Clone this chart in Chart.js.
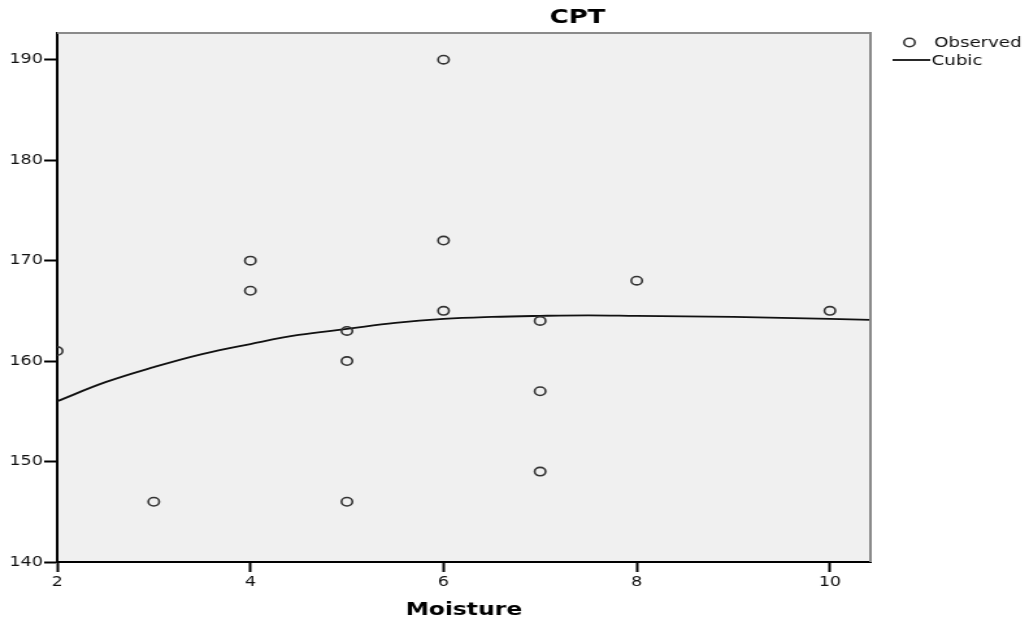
<!DOCTYPE html>
<html>
<head>
<meta charset="utf-8">
<title>CPT</title>
<script src="https://cdn.jsdelivr.net/npm/chart.js@4/dist/chart.umd.min.js"></script>
<style>
  html, body { margin: 0; padding: 0; background: #fff; overflow: hidden; }
  /* the chart is drawn narrow and stretched sideways, like the exported SPSS plot */
  #wrap { width: 792px; height: 626px; transform: scaleX(1.2992); transform-origin: 0 0; }
</style>
</head>
<body>
<div id="wrap"><canvas id="cptChart" width="792" height="626" style="width:792px;height:626px"></canvas></div>
<script>
// observed values
const moisture = [2, 3, 4, 4, 5, 5, 5, 6, 6, 6, 7, 7, 7, 8, 10];
const cpt = [161, 146, 170, 167, 163, 160, 146, 190, 172, 165, 164, 157, 149, 168, 165];

// cubic fit
const curveX = [2, 2.5, 3, 3.5, 4, 4.5, 5, 5.5, 6, 6.5, 7, 7.5, 8, 8.5, 9, 9.5, 10, 10.42];
const curveY = [156.0, 157.9, 159.4, 160.7, 161.7, 162.6, 163.2, 163.8, 164.2, 164.4, 164.5, 164.55, 164.5, 164.45, 164.4, 164.3, 164.2, 164.1];

const xTicks = [2, 4, 6, 8, 10];
const yTicks = [140, 150, 160, 170, 180, 190];

document.addEventListener('DOMContentLoaded', function () {
    const canvas = document.getElementById('cptChart');
    const ctx = canvas.getContext('2d');
    const FONT = "'DejaVu Sans', Verdana, sans-serif";

    const scatterPts = moisture.map(function (m, i) { return { x: m, y: cpt[i] }; });
    const curvePts = curveX.map(function (m, i) { return { x: m, y: curveY[i] }; });

    // grey plot background plus the grey top/right frame
    const plotFrame = {
        id: 'plotFrame',
        beforeDraw: function (chart) {
            const c = chart.ctx, a = chart.chartArea;
            c.save();
            c.fillStyle = '#fff';
            c.fillRect(0, 0, chart.width, chart.height);
            c.fillStyle = '#f0f0f0';
            c.fillRect(a.left, a.top, a.right - a.left, a.bottom - a.top);
            c.restore();
        },
        afterDatasetsDraw: function (chart) {
            const c = chart.ctx, a = chart.chartArea;
            c.save();
            c.strokeStyle = '#8a8a8a';
            c.lineWidth = 2;
            c.beginPath();
            c.moveTo(a.left, a.top);
            c.lineTo(a.right, a.top);
            c.lineTo(a.right, a.bottom);
            c.stroke();
            c.restore();
        }
    };

    // title and the small legend on the right
    const labels = {
        id: 'labels',
        afterDraw: function (chart) {
            const c = chart.ctx;
            c.save();
            c.fillStyle = '#000';
            c.textBaseline = 'middle';
            c.textAlign = 'left';
            c.font = "bold 20px " + FONT;
            c.fillText('CPT', 423, 18);

            c.fillStyle = '#111';
            c.font = "14px " + FONT;
            c.fillText('Observed', 719, 43);
            c.fillText('Cubic', 717, 61);

            c.strokeStyle = '#333';
            c.lineWidth = 1.6;
            c.beginPath();
            c.arc(700, 42.5, 4.2, 0, Math.PI * 2);
            c.stroke();

            c.strokeStyle = '#111';
            c.lineWidth = 1.8;
            c.beginPath();
            c.moveTo(687, 60);
            c.lineTo(716, 60);
            c.stroke();
            c.restore();
        }
    };

    new Chart(ctx, {
        type: 'scatter',
        data: {
            datasets: [{
                label: 'Observed',
                data: scatterPts,
                pointStyle: 'circle',
                pointRadius: 4.2,
                pointBorderWidth: 1.6,
                borderColor: '#333',
                backgroundColor: 'rgba(0,0,0,0)',
                clip: 0
            }, {
                type: 'line',
                label: 'Cubic',
                data: curvePts,
                borderColor: '#111',
                borderWidth: 1.8,
                pointRadius: 0,
                fill: false,
                tension: 0.4,
                clip: 0
            }]
        },
        options: {
            responsive: false,
            animation: false,
            devicePixelRatio: 1,
            layout: { padding: { top: 33, right: 122, left: 0, bottom: 0 } },
            plugins: {
                legend: { display: false },
                title: { display: false },
                tooltip: { enabled: false }
            },
            scales: {
                x: {
                    type: 'linear',
                    min: 2,
                    max: 10.42,
                    afterBuildTicks: function (s) { s.ticks = xTicks.map(function (v) { return { value: v }; }); },
                    afterFit: function (s) { s.height = 64; },
                    grid: { display: true, drawOnChartArea: false, drawTicks: true, tickLength: 10, tickWidth: 2, tickColor: '#000' },
                    border: { display: true, color: '#000', width: 2 },
                    ticks: { font: { family: FONT, size: 13.5 }, color: '#111', padding: 2, maxRotation: 0, autoSkip: false },
                    title: {
                        display: true,
                        text: 'Moisture',
                        color: '#000',
                        font: { family: FONT, size: 18, weight: 'bold' },
                        padding: { top: 0, bottom: 5 }
                    }
                },
                y: {
                    min: 140,
                    max: 192.66,
                    afterBuildTicks: function (s) { s.ticks = yTicks.map(function (v) { return { value: v }; }); },
                    afterFit: function (s) { s.width = 44; },
                    grid: { display: true, drawOnChartArea: false, drawTicks: true, tickLength: 10, tickWidth: 2, tickColor: '#000' },
                    border: { display: true, color: '#000', width: 2 },
                    ticks: { font: { family: FONT, size: 13.5 }, color: '#111', padding: 1, autoSkip: false }
                }
            }
        },
        plugins: [plotFrame, labels]
    });
});
</script>
</body>
</html>
